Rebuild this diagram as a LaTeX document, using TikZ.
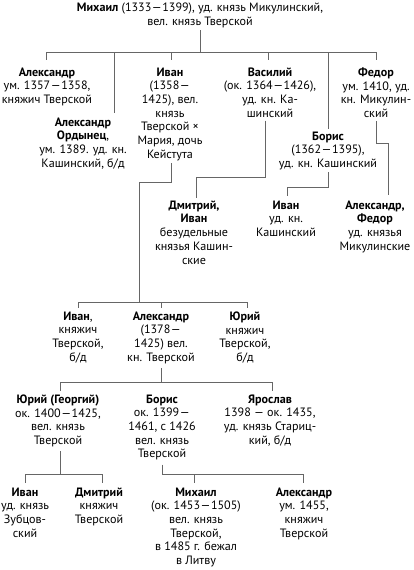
\documentclass[tikz,border=0pt]{standalone}
\usepackage{fontspec}
\setmainfont{PT Sans}
\newcommand{\dsh}{\kern0.5pt—\kern0.5pt}
\begin{document}
\begin{tikzpicture}[x=1pt,y=-1pt,
  t/.style={align=center,inner sep=0pt,anchor=north,font=\fontsize{12.1}{13.7}\selectfont},
  ln/.style={draw=black!60,line width=0.8pt}]
\useasboundingbox (0,0) rectangle (414,570);

% ---- nodes ----
\node[t] (m0) at (200,3) {\textbf{Михаил} (1333\dsh1399), уд. князь Микулинский,\\вел. князь Тверской};

\node[t] (a1) at (47,67.5) {\textbf{Александр}\\ум. 1357\dsh1358,\\княжич Тверской};
\node[t] (i1) at (170,67.5) {\textbf{Иван}\\(1358\dsh\\1425), вел.\\князь\\Тверской ×\\Мария, дочь\\Кейстута};
\node[t] (v1) at (270,67.5) {\textbf{Василий}\\(ок. 1364\dsh1426),\\уд. кн. Ка-\\шинский};
\node[t] (f1) at (376,67.5) {\textbf{Федор}\\ум. 1410, уд.\\кн. Микулин-\\ский};
\node[t] (ao) at (83,117.5) {\textbf{Александр}\\\textbf{Ордынец},\\ум. 1389. уд. кн.\\Кашинский, б/д};
\node[t] (b1) at (328,131.5) {\textbf{Борис}\\(1362\dsh1395),\\уд. кн. Кашинский};

\node[t] (d1) at (194,200.5) {\textbf{Дмитрий,}\\\textbf{Иван}\\безудельные\\князья Кашин-\\ские};
\node[t] (i2) at (286,200.5) {\textbf{Иван}\\уд. кн.\\Кашинский};
\node[t] (af) at (375,200.5) {\textbf{Александр,}\\\textbf{Федор}\\уд. князья\\Микулинские};

\node[t] (i3) at (78,311.5) {\textbf{Иван},\\княжич\\Тверской,\\б/д};
\node[t] (a3) at (161,311.5) {\textbf{Александр}\\(1378\dsh\\1425) вел.\\кн. Тверской};
\node[t] (y3) at (245,311.5) {\textbf{Юрий}\\княжич\\Тверской,\\б/д};

\node[t] (y4) at (58,394.5) {\textbf{Юрий (Георгий)}\\ок. 1400\dsh1425,\\вел. князь\\Тверской};
\node[t] (b4) at (162,394.5) {\textbf{Борис}\\ок. 1399\dsh\\1461, с 1426\\вел. князь\\Тверской};
\node[t] (ya4) at (270,394.5) {\textbf{Ярослав}\\1398 — ок. 1435,\\уд. князь Стариц-\\кий, б/д};

\node[t] (i5) at (25,487.5) {\textbf{Иван}\\уд. князь\\Зубцов-\\ский};
\node[t] (d5) at (99,487.5) {\textbf{Дмитрий}\\княжич\\Тверской};
\node[t] (m5) at (196,487.5) {\textbf{Михаил}\\(ок. 1453\dsh1505)\\вел. князь\\Тверской,\\в 1485 г. бежал\\в Литву};
\node[t] (a5) at (304,487.5) {\textbf{Александр}\\ум. 1455,\\княжич\\Тверской};

% ---- bus coordinates ----
\coordinate (bus0) at (200,52);
\coordinate (bus3) at (139,302);
\coordinate (bus4) at (161,382);
\coordinate (bus5a) at (60,474);
\coordinate (bus5b) at (162,474);

% ---- connectors ----
% Mikhail -> children
\draw[ln] ([yshift=-2pt]m0.south) -- (bus0);
\draw[ln] (46,52) -- (376,52);
\draw[ln] (bus0 -| 46,0) -- ([yshift=8pt]a1.north -| 46,0);
\draw[ln] (bus0 -| 114,0) -- ([yshift=5pt]ao.north -| 114,0);
\draw[ln] (bus0 -| 171,0) -- ([yshift=8pt]i1.north -| 171,0);
\draw[ln] (bus0 -| 268,0) -- ([yshift=8pt]v1.north -| 268,0);
\draw[ln] (bus0 -| 328,0) -- ([yshift=3pt]b1.north);
\draw[ln] (bus0 -| 376,0) -- ([yshift=8pt]f1.north);

% Ivan -> sons
\draw[ln] ([yshift=-2pt]i1.south -| 171,0) -- (171,182) -- (139,182) -- (bus3);
\draw[ln] (78,302) -- (247,302);
\draw[ln] (bus3 -| 78,0) -- ([yshift=4pt]i3.north);
\draw[ln] (bus3 -| 161,0) -- ([yshift=4pt]a3.north);
\draw[ln] (bus3 -| 247,0) -- ([yshift=4pt]y3.north -| 247,0);

% Vasily -> Dmitry, Ivan
\draw[ln] ([yshift=-3pt]v1.south -| 265,0) -- (265,177) -- (196,177) -- ([yshift=3pt]d1.north -| 196,0);
% Boris -> Ivan
\draw[ln] ([yshift=-2pt]b1.south) -- (328,187) -- (287,187) -- ([yshift=5pt]i2.north -| 287,0);
% Fedor -> Alexander, Fedor
\draw[ln] ([yshift=-3pt]f1.south) -- (376,143) -- (388,143) -- ([yshift=6pt]af.north -| 388,0);

% Alexander -> sons
\draw[ln] ([yshift=-4pt]a3.south -| 161,0) -- (bus4);
\draw[ln] (60,382) -- (272,382);
\draw[ln] (bus4 -| 60,0) -- ([yshift=4pt]y4.north -| 60,0);
\draw[ln] (bus4 -| 272,0) -- ([yshift=4pt]ya4.north -| 272,0);

% Yury -> sons
\draw[ln] ([yshift=-4pt]y4.south -| 60,0) -- (bus5a);
\draw[ln] (25,474) -- (102,474);
\draw[ln] (bus5a -| 25,0) -- ([yshift=5pt]i5.north);
\draw[ln] (bus5a -| 102,0) -- ([yshift=5pt]d5.north -| 102,0);

% Boris -> sons
\draw[ln] ([yshift=-4pt]b4.south) -- (bus5b) -- (303,474);
\draw[ln] (bus5b -| 194,0) -- ([yshift=5pt]m5.north -| 194,0);
\draw[ln] (bus5b -| 303,0) -- ([yshift=5pt]a5.north -| 303,0);
\end{tikzpicture}
\end{document}
